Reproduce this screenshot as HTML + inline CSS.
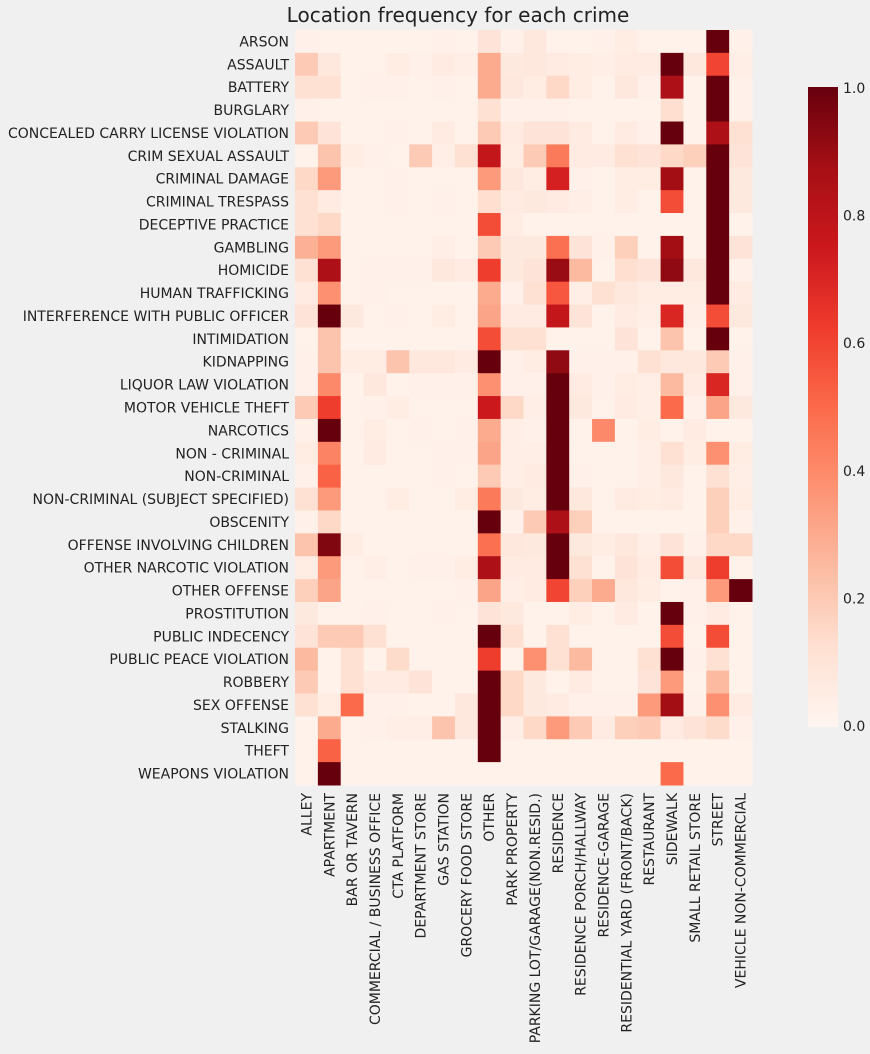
<!DOCTYPE html>
<html><head><meta charset="utf-8"><style>
body{margin:0;background:#f0f0f0;font-family:"Liberation Sans","DejaVu Sans",sans-serif;}
svg text{font-family:"DejaVu Sans","Liberation Sans",sans-serif;fill:#222;}
</style></head><body>
<svg id="chart" width="870" height="1049" xmlns="http://www.w3.org/2000/svg">
<defs><linearGradient id="cb" x1="0" y1="1" x2="0" y2="0">
<stop offset="0" stop-color="#fff5f0"/><stop offset="0.125" stop-color="#fee0d2"/><stop offset="0.25" stop-color="#fcbba1"/><stop offset="0.375" stop-color="#fc9272"/><stop offset="0.5" stop-color="#fb6a4a"/><stop offset="0.625" stop-color="#ef3b2c"/><stop offset="0.75" stop-color="#cb181d"/><stop offset="0.875" stop-color="#a50f15"/><stop offset="1" stop-color="#67000d"/>
</linearGradient></defs>
<text x="458" y="22" font-size="20" text-anchor="middle">Location frequency for each crime</text>
<g id="cells"></g><g id="ylabels"></g><g id="xlabels"></g>
<rect x="808" y="87" width="30" height="640" fill="url(#cb)"/>
<g id="cbticks"></g>
</svg>
<script>
const rows = ["ARSON","ASSAULT","BATTERY","BURGLARY","CONCEALED CARRY LICENSE VIOLATION","CRIM SEXUAL ASSAULT","CRIMINAL DAMAGE","CRIMINAL TRESPASS","DECEPTIVE PRACTICE","GAMBLING","HOMICIDE","HUMAN TRAFFICKING","INTERFERENCE WITH PUBLIC OFFICER","INTIMIDATION","KIDNAPPING","LIQUOR LAW VIOLATION","MOTOR VEHICLE THEFT","NARCOTICS","NON - CRIMINAL","NON-CRIMINAL","NON-CRIMINAL (SUBJECT SPECIFIED)","OBSCENITY","OFFENSE INVOLVING CHILDREN","OTHER NARCOTIC VIOLATION","OTHER OFFENSE","PROSTITUTION","PUBLIC INDECENCY","PUBLIC PEACE VIOLATION","ROBBERY","SEX OFFENSE","STALKING","THEFT","WEAPONS VIOLATION"];
const cols = ["ALLEY","APARTMENT","BAR OR TAVERN","COMMERCIAL / BUSINESS OFFICE","CTA PLATFORM","DEPARTMENT STORE","GAS STATION","GROCERY FOOD STORE","OTHER","PARK PROPERTY","PARKING LOT/GARAGE(NON.RESID.)","RESIDENCE","RESIDENCE PORCH/HALLWAY","RESIDENCE-GARAGE","RESIDENTIAL YARD (FRONT/BACK)","RESTAURANT","SIDEWALK","SMALL RETAIL STORE","STREET","VEHICLE NON-COMMERCIAL"];
const values = [
[0.03,0.02,0.02,0.02,0.02,0.02,0.03,0.02,0.1,0.03,0.08,0.02,0.02,0.03,0.05,0.02,0.02,0.02,1.0,0.03],
[0.2,0.08,0.02,0.02,0.05,0.03,0.06,0.04,0.3,0.07,0.08,0.06,0.05,0.04,0.06,0.06,1.0,0.08,0.6,0.04],
[0.12,0.12,0.02,0.03,0.03,0.02,0.03,0.02,0.3,0.08,0.05,0.15,0.05,0.02,0.08,0.03,0.85,0.02,1.0,0.03],
[0.03,0.02,0.02,0.02,0.02,0.02,0.02,0.02,0.12,0.03,0.03,0.03,0.02,0.02,0.02,0.02,0.13,0.02,1.0,0.03],
[0.2,0.1,0.02,0.02,0.03,0.02,0.06,0.02,0.2,0.06,0.1,0.1,0.06,0.02,0.06,0.03,1.0,0.02,0.85,0.12],
[0.02,0.22,0.05,0.03,0.02,0.2,0.04,0.12,0.78,0.05,0.2,0.45,0.06,0.06,0.12,0.1,0.15,0.18,1.0,0.1],
[0.15,0.35,0.02,0.02,0.03,0.02,0.02,0.02,0.35,0.08,0.05,0.72,0.03,0.02,0.05,0.05,0.88,0.02,1.0,0.07],
[0.12,0.06,0.02,0.02,0.03,0.02,0.03,0.02,0.13,0.06,0.07,0.06,0.04,0.02,0.05,0.02,0.58,0.02,1.0,0.07],
[0.12,0.15,0.02,0.02,0.02,0.02,0.02,0.02,0.58,0.05,0.02,0.02,0.02,0.02,0.02,0.02,0.02,0.02,1.0,0.02],
[0.28,0.35,0.02,0.02,0.02,0.02,0.04,0.02,0.2,0.07,0.07,0.48,0.1,0.03,0.18,0.02,0.88,0.02,1.0,0.1],
[0.12,0.85,0.02,0.03,0.03,0.03,0.08,0.06,0.62,0.07,0.1,0.9,0.25,0.02,0.13,0.1,0.92,0.08,1.0,0.03],
[0.06,0.38,0.02,0.03,0.02,0.02,0.02,0.02,0.3,0.03,0.12,0.55,0.04,0.12,0.08,0.05,0.05,0.05,1.0,0.06],
[0.1,1.0,0.07,0.02,0.03,0.02,0.05,0.02,0.32,0.06,0.06,0.78,0.1,0.02,0.06,0.04,0.7,0.04,0.58,0.07],
[0.02,0.22,0.02,0.02,0.02,0.02,0.02,0.02,0.58,0.12,0.12,0.02,0.02,0.02,0.1,0.02,0.22,0.02,1.0,0.02],
[0.03,0.22,0.05,0.05,0.22,0.08,0.08,0.06,1.0,0.03,0.05,0.92,0.03,0.03,0.03,0.12,0.08,0.08,0.2,0.03],
[0.03,0.4,0.02,0.08,0.02,0.03,0.03,0.03,0.38,0.03,0.03,1.0,0.06,0.03,0.05,0.04,0.25,0.06,0.7,0.03],
[0.2,0.62,0.02,0.03,0.05,0.02,0.02,0.02,0.75,0.15,0.04,1.0,0.07,0.02,0.06,0.04,0.5,0.03,0.32,0.07],
[0.03,1.0,0.02,0.05,0.02,0.03,0.02,0.03,0.3,0.04,0.03,1.0,0.02,0.4,0.02,0.05,0.02,0.06,0.02,0.02],
[0.05,0.42,0.02,0.06,0.02,0.02,0.03,0.03,0.32,0.04,0.04,1.0,0.02,0.02,0.02,0.04,0.12,0.05,0.38,0.05],
[0.03,0.52,0.02,0.02,0.02,0.02,0.03,0.02,0.2,0.04,0.06,1.0,0.03,0.02,0.02,0.04,0.08,0.02,0.12,0.04],
[0.12,0.35,0.02,0.02,0.05,0.02,0.02,0.05,0.45,0.07,0.05,1.0,0.08,0.02,0.06,0.05,0.06,0.02,0.18,0.05],
[0.03,0.15,0.02,0.02,0.02,0.02,0.02,0.02,1.0,0.03,0.2,0.85,0.18,0.02,0.02,0.02,0.02,0.02,0.18,0.03],
[0.22,0.95,0.05,0.02,0.02,0.02,0.02,0.02,0.48,0.08,0.07,1.0,0.07,0.05,0.08,0.04,0.1,0.03,0.15,0.15],
[0.05,0.35,0.02,0.04,0.02,0.03,0.03,0.05,0.85,0.06,0.06,1.0,0.12,0.02,0.1,0.06,0.58,0.08,0.62,0.02],
[0.18,0.32,0.02,0.02,0.02,0.02,0.02,0.03,0.32,0.04,0.06,0.6,0.18,0.3,0.08,0.05,0.02,0.03,0.35,1.0],
[0.07,0.02,0.02,0.03,0.02,0.02,0.03,0.02,0.1,0.07,0.02,0.02,0.05,0.02,0.06,0.02,1.0,0.03,0.06,0.02],
[0.1,0.2,0.2,0.12,0.02,0.02,0.02,0.02,1.0,0.12,0.02,0.12,0.02,0.02,0.02,0.02,0.58,0.02,0.58,0.02],
[0.25,0.02,0.12,0.02,0.14,0.02,0.02,0.02,0.62,0.02,0.38,0.12,0.25,0.02,0.02,0.12,1.0,0.03,0.12,0.02],
[0.2,0.02,0.12,0.06,0.06,0.1,0.02,0.02,1.0,0.15,0.07,0.02,0.06,0.02,0.02,0.1,0.35,0.02,0.25,0.02],
[0.12,0.05,0.5,0.03,0.03,0.02,0.02,0.08,1.0,0.15,0.07,0.06,0.03,0.03,0.03,0.35,0.88,0.03,0.38,0.06],
[0.02,0.3,0.02,0.03,0.04,0.04,0.22,0.08,1.0,0.04,0.15,0.35,0.2,0.06,0.18,0.2,0.06,0.1,0.14,0.03],
[0.02,0.52,0.02,0.02,0.02,0.02,0.02,0.02,1.0,0.02,0.02,0.02,0.02,0.02,0.02,0.02,0.02,0.02,0.02,0.02],
[0.02,1.0,0.02,0.02,0.02,0.02,0.02,0.02,0.02,0.02,0.02,0.02,0.02,0.02,0.02,0.02,0.5,0.02,0.02,0.02]
];
const cbTicks = ["0.0","0.2","0.4","0.6","0.8","1.0"];

const NS="http://www.w3.org/2000/svg";
const L=295, T=30, W=457, H=755;
const cw=W/cols.length, rh=H/rows.length;
const xPos=i=>L+i*cw, yPos=j=>T+j*rh;
const stops=["#fff5f0","#fee0d2","#fcbba1","#fc9272","#fb6a4a","#ef3b2c","#cb181d","#a50f15","#67000d"].map(h=>[1,3,5].map(k=>parseInt(h.substr(k,2),16)));
function color(v){v=Math.max(0,Math.min(1,v));const p=v*8,i=Math.min(7,Math.floor(p)),f=p-i;const a=stops[i],b=stops[i+1];return "rgb("+a.map((c,k)=>Math.round(c+(b[k]-c)*f)).join(",")+")";}
const cells=document.getElementById('cells');
values.forEach((row,j)=>row.forEach((v,i)=>{
 const r=document.createElementNS(NS,'rect');
 r.setAttribute('x',xPos(i));r.setAttribute('y',yPos(j));
 r.setAttribute('width',cw+0.5);r.setAttribute('height',rh+0.5);
 r.setAttribute('fill',color(v));
 
 
 cells.appendChild(r);
}));
const yl=document.getElementById('ylabels');
rows.forEach((n,j)=>{
 const t=document.createElementNS(NS,'text');
 t.setAttribute('x',L-6);t.setAttribute('y',yPos(j)+rh/2+5);
 t.setAttribute('text-anchor','end');t.setAttribute('font-size','14');
 t.textContent=n;
 
 
 yl.appendChild(t);
});
const xl=document.getElementById('xlabels');
cols.forEach((n,i)=>{
 const t=document.createElementNS(NS,'text');
 const x=xPos(i)+cw/2+5, y=T+H+8;
 t.setAttribute('transform','translate('+x+','+y+') rotate(-90)');
 t.setAttribute('text-anchor','end');t.setAttribute('font-size','14');
 t.textContent=n;
 
 
 xl.appendChild(t);
});
const cbt=document.getElementById('cbticks');
cbTicks.forEach(s=>{
 const v=parseFloat(s);
 const t=document.createElementNS(NS,'text');
 t.setAttribute('x',843);t.setAttribute('y',726-v*638+5);
 t.setAttribute('font-size','14');
 t.textContent=s;
 
 
 cbt.appendChild(t);
});
</script>
</body></html>
